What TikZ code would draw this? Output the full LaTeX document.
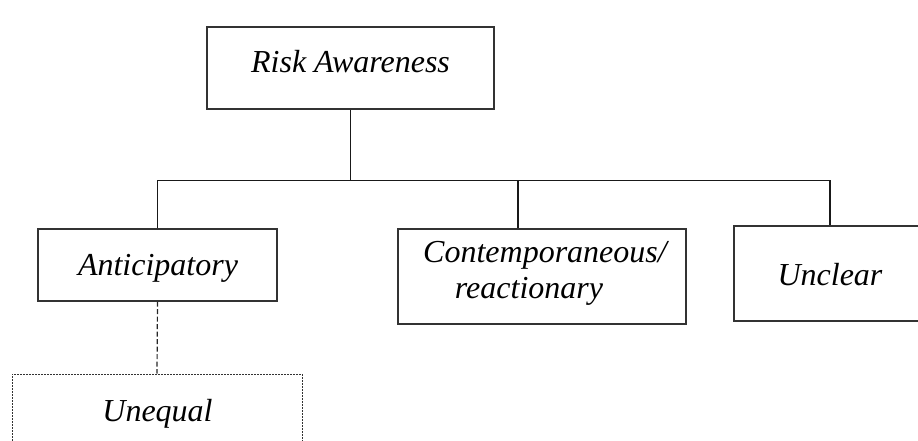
\documentclass[tikz,border=0pt]{standalone}
\usepackage{fontspec}
\setmainfont{Liberation Serif}
\begin{document}
\begin{tikzpicture}[x=1pt,y=-1pt,
  box/.style={draw=black!80, line width=1.3pt, rectangle, inner sep=0pt},
  lbl/.style={font=\fontsize{32}{36}\selectfont\itshape, inner sep=0pt, anchor=base},
  link/.style={draw=black!90, line width=1.5pt},
  dashlink/.style={draw=black!85, line width=1.2pt, dash pattern=on 5pt off 2.5pt},
  dotbox/.style={draw=black!80, line width=1pt, dash pattern=on 1.6pt off 1.4pt, rectangle, inner sep=0pt}]
\useasboundingbox (0,0) rectangle (918,441);
\begin{scope}
\clip (0,0) rectangle (918,441);

% boxes
\node[box, minimum width=287pt, minimum height=82pt] (risk) at (350.5,68) {};
\node[box, minimum width=239pt, minimum height=72pt] (antic) at (157.5,265) {};
\node[box, minimum width=288pt, minimum height=95pt] (contemp) at (542,276.5) {};
\node[box, minimum width=192pt, minimum height=95pt] (unclear) at (830,273.5) {};
\node[dotbox, minimum width=290pt, minimum height=72pt] (unequal) at (157,410) {};

% labels
\node[lbl] (riskt) at (350.5,73) {Risk Awareness};
\node[lbl] (antict) at (158,275) {Anticipatory};
\node[lbl] (contempa) at (545,262) {Contemporaneous/};
\node[lbl] (contempb) at (529,298) {reactionary};
\node[lbl] (unclt) at (830,285) {Unclear};
\node[lbl] (uneqt) at (157.5,421) {Unequal};

% tree connectors
\coordinate (hub) at (risk.south |- 0,180.5);
\coordinate (cdrop) at ([xshift=-24pt]contemp.north);
\draw[link] (risk.south) -- (hub);
\draw[link] (antic.north) |- (hub) -| (unclear.north);
\draw[link] (cdrop) -- (cdrop |- hub);
\draw[dashlink] (antic.south) -- (unequal.north);
\end{scope}
\end{tikzpicture}
\end{document}
